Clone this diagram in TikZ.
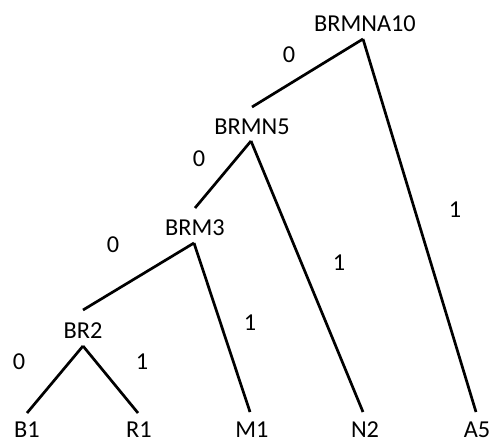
\documentclass[tikz,border=0pt]{standalone}
\usepackage{fontspec}
\setmainfont{Carlito}
\begin{document}
\begin{tikzpicture}[x=1pt,y=-1pt,
  lbl/.style={font=\fontsize{24.3}{26}\selectfont, inner sep=0pt, text=black},
  bit/.style={font=\fontsize{24.3}{26}\selectfont, inner sep=0pt, text=black},
  edge/.style={line width=2.7pt, black}]
\useasboundingbox (0,0) rectangle (493,441);
% internal nodes
\node[lbl] (n10) at (365,24) {BRMNA10};
\node[lbl] (n5)  at (252,127) {BRMN5};
\node[lbl] (n3)  at (195,228) {BRM3};
\node[lbl] (n2)  at (83,331) {BR2};
% leaves
\node[lbl] (b1) at (27,430) {B1};
\node[lbl] (r1) at (139,430) {R1};
\node[lbl] (m1) at (252,430) {M1};
\node[lbl] (nn2) at (365,430) {N2};
\node[lbl] (a5) at (477,430) {A5};
% branch points below and above each label
\coordinate (p10) at (363,39);
\coordinate (t5) at (252,107);
\coordinate (p5) at (251,141);
\coordinate (t3) at (195,208);
\coordinate (p3) at (194,243);
\coordinate (t2) at (83,310);
\coordinate (p2) at (83,346);
\coordinate (tb1) at (27,413);
\coordinate (tr1) at (138,413);
\coordinate (tm1) at (250,412);
\coordinate (tn2) at (363,412);
\coordinate (ta5) at (476,412);
% branches
\draw[edge] (p10) -- (t5);
\draw[edge] (p10) -- (ta5);
\draw[edge] (p5) -- (t3);
\draw[edge] (p5) -- (tn2);
\draw[edge] (p3) -- (t2);
\draw[edge] (p3) -- (tm1);
\draw[edge] (p2) -- (tb1);
\draw[edge] (p2) -- (tr1);
% branch bits
\node[bit] (z10) at (289,55) {0};
\node[bit] (o10) at (455,210) {1};
\node[bit] (z5) at (199,159) {0};
\node[bit] (o5) at (339,263) {1};
\node[bit] (z3) at (113,245) {0};
\node[bit] (o3) at (250,323) {1};
\node[bit] (z2) at (19,362) {0};
\node[bit] (o2) at (142,362) {1};
\end{tikzpicture}
\end{document}
